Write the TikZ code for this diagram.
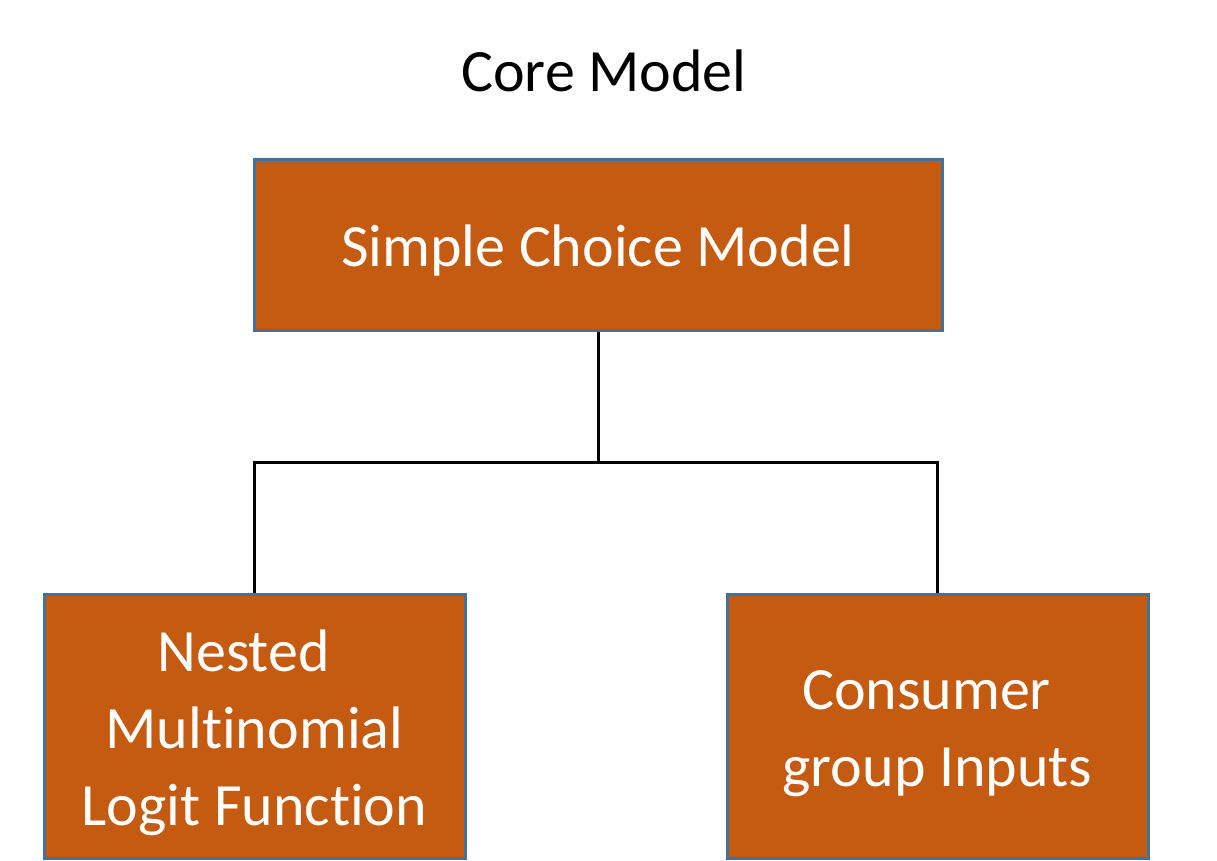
\documentclass[tikz,border=0pt]{standalone}
\usepackage{fontspec}
\setmainfont[Ligatures=NoCommon]{Carlito}
\definecolor{boxfill}{HTML}{C55A11}
\definecolor{boxline}{HTML}{41719C}
\begin{document}
\begin{tikzpicture}[x=1pt,y=-1pt,
  box/.style={draw=boxline, line width=3pt, fill=boxfill, inner sep=0pt},
  boxtext/.style={text=white, font=\fontsize{60}{77}\selectfont, align=center, inner sep=0pt, yshift=-6pt},
  conn/.style={line width=3pt}]
\useasboundingbox (0,0) rectangle (1217,860);
\node[font=\fontsize{60}{72}\selectfont] (title) at (604,71) {Core Model};
\node[box, minimum width=688pt, minimum height=171pt] (top) at (598,244.5) {};
\node[boxtext] (toptext) at (top.center) {Simple Choice Model};
\node[box, minimum width=421pt, minimum height=264pt] (left) at (254.5,726) {};
\node[boxtext, yshift=-1pt] (lefttext) at (left.center)
  {Nested\hspace*{22pt}\\ Multinomial\hspace*{22pt}\\ Logit Function};
\node[box, minimum width=421pt, minimum height=264pt] (right) at (937.5,726) {};
\node[boxtext, yshift=-2pt] (righttext) at (right.center)
  {Consumer\hspace*{22pt}\\ group Inputs};
\path (top.south) ++(0,131) coordinate (junc);
\draw[conn] (top.south) -- (junc) -| (left.north);
\draw[conn] (junc) -| (right.north);
\end{tikzpicture}
\end{document}
